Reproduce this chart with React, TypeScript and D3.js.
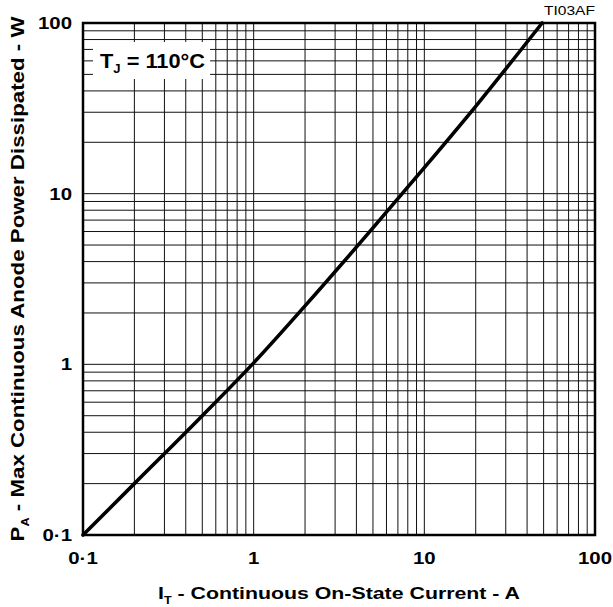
import React, { useEffect, useRef } from "react";
import * as d3 from "d3";

// curve: on-state current (A) vs max power (W)
const currentA = [0.1, 0.2, 0.5, 1, 2, 5, 10, 20, 49];
const powerW = [0.1, 0.2, 0.5, 1.02, 2.2, 6.3, 14.2, 32.5, 100];

const majorTicks = [0.1, 1, 10, 100];
const tickLabels = ["0·1", "1", "10", "100"];

const W = 613;
const H = 607;
const margin = { left: 83, top: 23, right: 18, bottom: 72 };
const FONT = "'Liberation Sans', Arial, Helvetica, sans-serif";
const WIDEN = 1.2; // the original lettering is wider than Arial

function App() {
  const ref = useRef<SVGSVGElement>(null);

  useEffect(() => {
    const svg = d3.select(ref.current);
    svg.selectAll("*").remove();
    const innerW = W - margin.left - margin.right;
    const innerH = H - margin.top - margin.bottom;

    const x = d3.scaleLog().domain([0.1, 100]).range([0, innerW]);
    const y = d3.scaleLog().domain([0.1, 100]).range([innerH, 0]);

    // stretch a text node to the wider look of the scan
    const widen = (sel: any, len?: number) => {
      sel.each(function (this: SVGTextElement) {
        const l = len ?? this.getComputedTextLength() * WIDEN;
        d3.select(this)
          .attr("textLength", l)
          .attr("lengthAdjust", "spacingAndGlyphs");
      });
    };

    // every 1..9 step inside each decade
    const grid: number[] = [];
    [0.1, 1, 10].forEach((dec) => {
      for (let k = 1; k < 10; k++) grid.push(dec * k);
    });
    grid.push(100);

    const g = svg
      .append("g")
      .attr("transform", `translate(${margin.left},${margin.top})`);

    g.append("g")
      .selectAll("line")
      .data(grid)
      .enter()
      .append("line")
      .attr("x1", (d) => x(d))
      .attr("x2", (d) => x(d))
      .attr("y1", 0)
      .attr("y2", innerH)
      .attr("stroke", "#111")
      .attr("stroke-width", 1);

    g.append("g")
      .selectAll("line")
      .data(grid)
      .enter()
      .append("line")
      .attr("y1", (d) => y(d))
      .attr("y2", (d) => y(d))
      .attr("x1", 0)
      .attr("x2", innerW)
      .attr("stroke", "#111")
      .attr("stroke-width", 1);

    // legend box covering the grid
    g.append("rect")
      .attr("x", 10)
      .attr("y", 19)
      .attr("width", 117)
      .attr("height", 37)
      .attr("fill", "#fff");
    const leg = g
      .append("text")
      .attr("x", 17)
      .attr("y", 45)
      .attr("font-family", FONT)
      .attr("font-weight", "bold")
      .attr("font-size", 20);
    leg.append("tspan").text("T");
    leg.append("tspan").attr("font-size", 12).attr("dy", 5).text("J");
    leg.append("tspan").attr("dy", -5).text(" = 110°C");
    widen(leg, 105);

    g.append("rect")
      .attr("width", innerW)
      .attr("height", innerH)
      .attr("fill", "none")
      .attr("stroke", "#000")
      .attr("stroke-width", 2.5);

    const line = d3
      .line<number>()
      .x((d) => x(d))
      .y((_, i) => y(powerW[i]))
      .curve(d3.curveMonotoneX);
    g.append("path")
      .attr("d", line(currentA))
      .attr("fill", "none")
      .attr("stroke", "#000")
      .attr("stroke-width", 3.6)
      .attr("stroke-linecap", "round");

    // tick labels
    const xTicks = g
      .selectAll(".xt")
      .data(majorTicks)
      .enter()
      .append("text")
      .attr("x", (d) => x(d))
      .attr("y", innerH + 29)
      .attr("text-anchor", "middle")
      .attr("font-family", FONT)
      .attr("font-weight", "bold")
      .attr("font-size", 17)
      .text((_, i) => tickLabels[i]);
    widen(xTicks);

    const yTicks = g
      .selectAll(".yt")
      .data(majorTicks)
      .enter()
      .append("text")
      .attr("x", -11)
      .attr("y", (d) => y(d) + 6)
      .attr("text-anchor", "end")
      .attr("font-family", FONT)
      .attr("font-weight", "bold")
      .attr("font-size", 17)
      .text((_, i) => tickLabels[i]);
    widen(yTicks);

    // axis titles
    const xt = svg
      .append("text")
      .attr("x", margin.left + innerW / 2)
      .attr("y", 599)
      .attr("text-anchor", "middle")
      .attr("font-family", FONT)
      .attr("font-weight", "bold")
      .attr("font-size", 17);
    xt.append("tspan").text("I");
    xt.append("tspan").attr("font-size", 10).attr("dy", 5).text("T");
    xt.append("tspan").attr("dy", -5).text(" - Continuous On-State Current - A");
    widen(xt, 362);

    const yt = svg
      .append("text")
      .attr(
        "transform",
        `translate(24,${margin.top + innerH / 2}) rotate(-90)`
      )
      .attr("text-anchor", "middle")
      .attr("font-family", FONT)
      .attr("font-weight", "bold")
      .attr("font-size", 17.5);
    yt.append("tspan").text("P");
    yt.append("tspan").attr("font-size", 10).attr("dy", 5).text("A");
    yt.append("tspan").attr("dy", -5).text(" - Max Continuous Anode Power Dissipated - W");
    widen(yt, 525);

    const code = svg
      .append("text")
      .attr("x", margin.left + innerW)
      .attr("y", 15)
      .attr("text-anchor", "end")
      .attr("font-family", FONT)
      .attr("font-size", 12.5)
      .text("TI03AF");
    widen(code, 51);
  }, []);

  return (
    <div style={{ position: "absolute", left: 0, top: 0 }}>
      <svg ref={ref} width={W} height={H} style={{ display: "block" }}></svg>
    </div>
  );
}

export default App;
